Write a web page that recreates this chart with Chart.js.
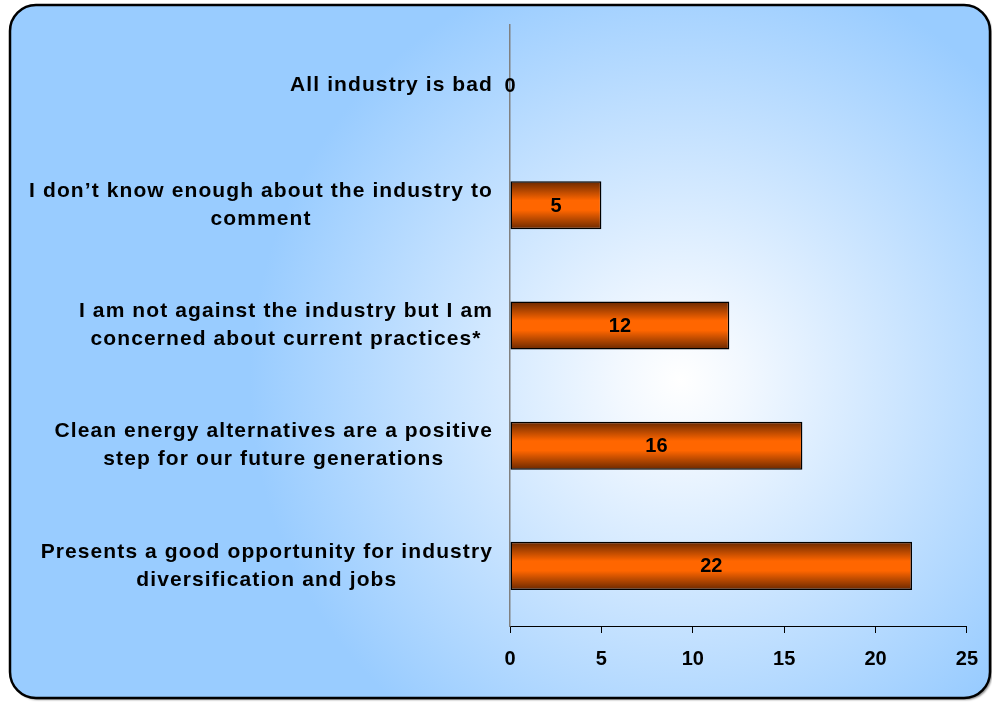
<!DOCTYPE html>
<html>
<head>
<meta charset="utf-8">
<script src="https://cdn.jsdelivr.net/npm/chart.js@4/dist/chart.umd.min.js"></script>
<style>
  html, body { margin: 0; padding: 0; background: #fff; }
  canvas { display: block; }
</style>
</head>
<body>
<canvas id="grafico" width="992" height="702"></canvas>
<script>
// ---- data ----
const categories = [
  ["All industry is bad"],
  ["I don\u2019t know enough about the industry to", "comment"],
  ["I am not against the industry but I am", "concerned about current practices*"],
  ["Clean energy alternatives are a positive", "step for our future generations"],
  ["Presents a good opportunity for industry", "diversification and jobs"]
];
const values = [0, 5, 12, 16, 22];
const xMin = 0, xMax = 25, xStep = 5;

const FONT = '"Liberation Sans", Arial, sans-serif';

// ---- background: rounded box with radial gradient ----
const fundo = {
  id: "fundo",
  beforeDraw(chart) {
    const ctx = chart.ctx;
    ctx.save();
    ctx.fillStyle = "#fff";
    ctx.fillRect(0, 0, chart.width, chart.height);
    const x = 10, y = 5, w = 980, h = 693, r = 26;
    const g = ctx.createRadialGradient(680, 380, 0, 680, 380, 430);
    g.addColorStop(0, "#ffffff");
    g.addColorStop(0.15, "#f2f8ff");
    g.addColorStop(1, "#99ccff");
    ctx.beginPath();
    ctx.roundRect(x, y, w, h, r);
    ctx.shadowColor = "rgba(0,0,0,0.45)";
    ctx.shadowOffsetX = 2;
    ctx.shadowOffsetY = 2;
    ctx.shadowBlur = 2;
    ctx.fillStyle = g;
    ctx.fill();
    ctx.shadowColor = "transparent";
    ctx.lineWidth = 2.5;
    ctx.strokeStyle = "#000";
    ctx.stroke();
    ctx.restore();
  }
};

// ---- category labels (right-aligned block, centred lines) ----
const rotulos = {
  id: "rotulos",
  afterDraw(chart) {
    const ctx = chart.ctx;
    const yScale = chart.scales.y;
    ctx.save();
    ctx.font = "bold 21px " + FONT;
    ctx.letterSpacing = "1.1px";
    ctx.fillStyle = "#000";
    ctx.textAlign = "left";
    ctx.textBaseline = "middle";
    const right = chart.chartArea.left - 17;
    const lh = 28;
    categories.forEach((lines, i) => {
      const cy = yScale.getPixelForValue(i);
      const widths = lines.map(l => ctx.measureText(l).width);
      const blockW = Math.max(...widths);
      const cx = right - blockW / 2;
      const top = cy - (lines.length - 1) * lh / 2;
      lines.forEach((l, j) => ctx.fillText(l, cx - widths[j] / 2, top + j * lh));
    });
    ctx.restore();
  }
};

// ---- value labels inside bars ----
const valores = {
  id: "valores",
  afterDatasetsDraw(chart) {
    const ctx = chart.ctx;
    const meta = chart.getDatasetMeta(0);
    ctx.save();
    ctx.font = "bold 20px " + FONT;
    ctx.fillStyle = "#000";
    ctx.textAlign = "center";
    ctx.textBaseline = "middle";
    meta.data.forEach((bar, i) => {
      ctx.fillText(String(values[i]), (bar.x + bar.base) / 2, bar.y + 1);
    });
    ctx.restore();
  }
};

// bar fill: dark at top/bottom, bright orange in the middle
function corBarra(c) {
  const chart = c.chart;
  const y = chart.scales.y;
  if (!y || c.type !== "data") return "#ff6600";
  const mid = y.getPixelForValue(c.dataIndex);
  const half = Math.abs(y.getPixelForValue(1) - y.getPixelForValue(0)) * 0.2;
  if (!Number.isFinite(mid) || !Number.isFinite(half) || half === 0) return "#ff6600";
  const g = chart.ctx.createLinearGradient(0, mid - half, 0, mid + half);
  g.addColorStop(0, "#6a2800");
  g.addColorStop(0.4, "#ff6600");
  g.addColorStop(0.6, "#ff6600");
  g.addColorStop(1, "#6a2800");
  return g;
}

new Chart(document.getElementById("grafico"), {
  type: "bar",
  data: {
    labels: categories,
    datasets: [{
      data: values,
      backgroundColor: corBarra,
      borderColor: "#000",
      borderWidth: 1.5,
      borderSkipped: false,
      barPercentage: 0.4,
      categoryPercentage: 1
    }]
  },
  options: {
    indexAxis: "y",
    responsive: false,
    animation: false,
    layout: { padding: { left: 502, right: 25, top: 25, bottom: 17 } },
    plugins: { legend: { display: false }, tooltip: { enabled: false } },
    scales: {
      x: {
        min: xMin,
        max: xMax,
        ticks: { stepSize: xStep, color: "#000", padding: 14, font: { family: FONT, size: 20, weight: "bold" } },
        grid: { drawOnChartArea: false, drawTicks: true, tickLength: 7, color: "#000", lineWidth: 1 },
        border: { display: true, color: "#000", width: 1 }
      },
      y: {
        ticks: { display: false },
        grid: { display: false },
        border: { display: true, color: "#808080", width: 1.5 }
      }
    }
  },
  plugins: [fundo, rotulos, valores]
});
</script>
</body>
</html>
